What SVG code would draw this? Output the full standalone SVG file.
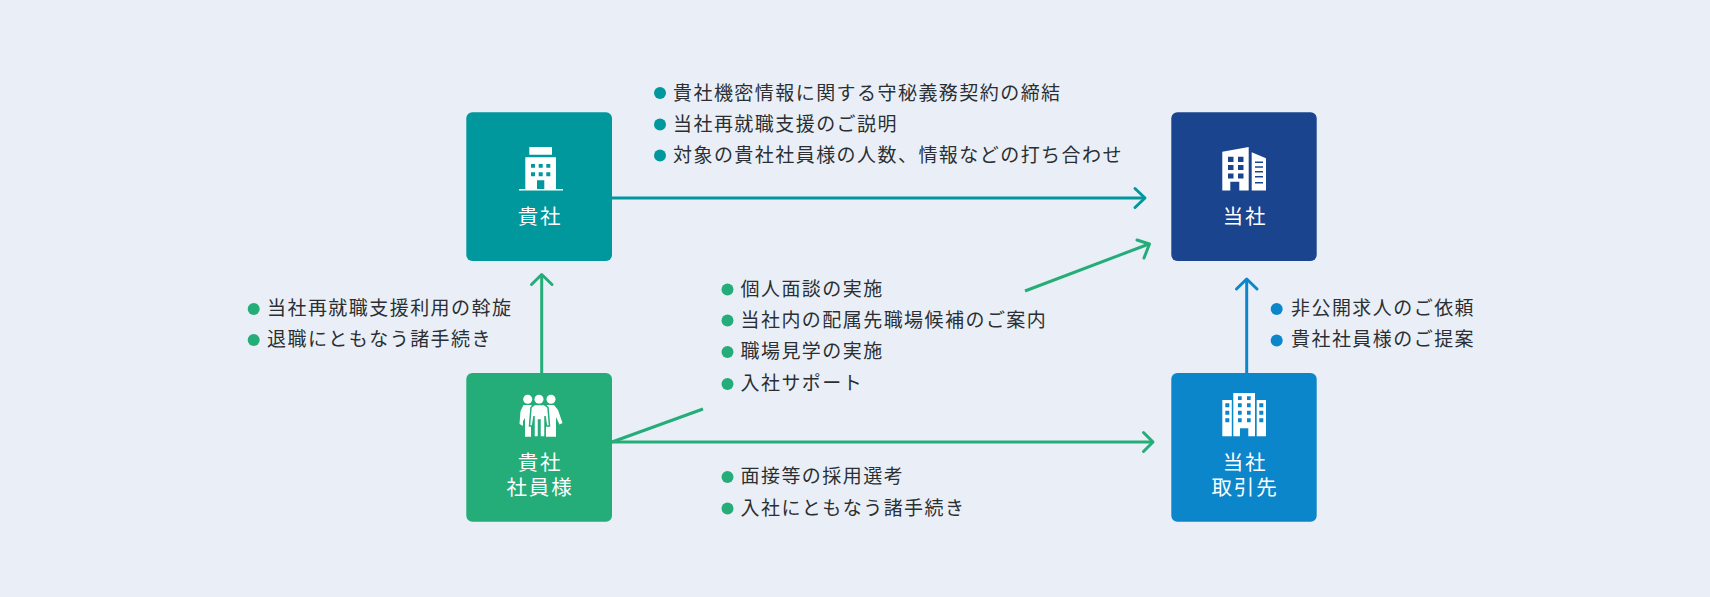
<svg xmlns="http://www.w3.org/2000/svg" width="1710" height="597" viewBox="0 0 1710 597">
<style>
text{font-family:"Noto Sans CJK JP","Noto Sans",sans-serif}
.l{font-size:19px;letter-spacing:1.45px;fill:#2b2f33}
.n{font-size:20.500px;letter-spacing:1.8px;fill:#fff;text-anchor:middle}
.c{fill:none;stroke-width:3;stroke-linecap:butt}
.h{fill:none;stroke-width:3;stroke-linecap:round;stroke-linejoin:round}
.w{fill:#fff}
</style>
<rect width="1710" height="597" fill="#eaeff7"/>
<g id="connectors">
<path class="c" stroke="#00979d" d="M612 198H1144"/><path class="h" stroke="#00979d" d="M1135 188.500L1145 198L1135 207.500"/>
<path class="c" stroke="#24ad78" d="M541.700 373V275"/><path class="h" stroke="#24ad78" d="M531.500 284.500L541.700 274.500L552 284.500"/>
<path class="c" stroke="#24ad78" d="M612 442L703 409"/>
<path class="c" stroke="#24ad78" d="M1025 291L1149 244"/><path class="h" stroke="#24ad78" d="M1137 240L1149.500 244L1144 258"/>
<path class="c" stroke="#24ad78" d="M612 442H1153"/><path class="h" stroke="#24ad78" d="M1143.500 432.500L1153 442L1143.500 451.500"/>
<path class="c" stroke="#0c86cb" d="M1246.700 373V280"/><path class="h" stroke="#0c86cb" d="M1236.500 289L1246.700 279L1257 289"/>
</g>
<g id="kisha">
<rect x="466.300" y="112.300" width="145.700" height="148.700" rx="6" fill="#00979d"/>
<path class="w" d="M529.300 147h22.700v7.700h-22.700zM525.300 157.300h30.700v31.700h-30.700zM519 189h44v1.500h-44z"/>
<path fill="#00979d" d="M531 164h4v3.700h-4zM538.700 164h4v3.700h-4zM546.300 164h4v3.700h-4zM531 172.300h4v4h-4zM538.700 172.300h4v4h-4zM546.300 172.300h4v4h-4zM537 180.300h7.300v8.700h-7.300z"/>
<text class="n" x="540" y="224">貴社</text>
</g>
<g id="tosha">
<rect x="1171.300" y="112.300" width="145.400" height="148.700" rx="6" fill="#1a448e"/>
<path class="w" d="M1222.300 151.700L1248.700 147V190.500H1239.300V181.700H1230.300V190.500H1222.300ZM1251.700 152.300L1266 158.300V190.500H1251.700Z"/>
<path fill="#1a448e" d="M1228 156.700h5.500v5.300h-5.500zM1238 156.700h5.500v5.300h-5.500zM1228 165h5.500v5h-5.500zM1238 165h5.500v5h-5.500zM1228 173.500h5.500v5h-5.500zM1238 173.500h5.500v5h-5.500zM1255 161.500h8v1.500h-8zM1255 166.300h8v1.500h-8zM1255 171h8v1.500h-8zM1255 176h8v1.500h-8zM1255 182h8v1.500h-8z"/>
<text class="n" x="1245" y="224">当社</text>
</g>
<g id="shainsama">
<rect x="466.300" y="373" width="145.700" height="148.700" rx="6" fill="#24ad78"/>
<g class="w"><circle cx="527.700" cy="399.300" r="4.500"/><circle cx="539" cy="399.300" r="4.500"/><circle cx="551" cy="399.300" r="4.500"/></g>
<path class="w" d="M523.500 405H531L534 408L531 420V436.700H525V418L523 421V426L519.500 424L520.500 411Z"/>
<path class="w" d="M546.500 405H554L558 410L562.500 423L559.500 424.500L556 417V436.700H546V419Z"/>
<path class="w" stroke="#24ad78" stroke-width="1.500" d="M534.500 404.500H544L548 407.500L549.500 426H546.500L545 416V437H540V420H538.500V437H534V416L532.500 426H529.500L531 407.500Z"/>
<text class="n" x="540" y="470">貴社<tspan x="540" dy="25">社員様</tspan></text>
</g>
<g id="torihikisaki">
<rect x="1171.300" y="373" width="145.400" height="148.700" rx="6" fill="#0c86cb"/>
<path class="w" d="M1222.300 400h9.500v36.300h-9.500zM1233.300 393h21.700v43.300h-6.700v-8h-8.300v8h-6.700zM1256.700 400h9.300v36.300h-9.300z"/>
<path fill="#0c86cb" d="M1225.300 403.300h4v4h-4zM1225.300 410.700h4v4h-4zM1225.300 418.300h4v4h-4zM1259.300 403.300h4v4h-4zM1259.300 410.700h4v4h-4zM1259.300 418.300h4v4h-4zM1238 396.300h3.700v3.700h-3.700zM1247 396.300h3.700v3.700h-3.700zM1238 403.300h3.700v4h-3.700zM1247 403.300h3.700v4h-3.700zM1238 410.700h3.700v4h-3.700zM1247 410.700h3.700v4h-3.700zM1238 418.300h3.700v4h-3.700zM1247 418.300h3.700v4h-3.700z"/>
<text class="n" x="1245" y="470">当社<tspan x="1245" dy="25">取引先</tspan></text>
</g>
<g id="labels-top">
<g fill="#00979d"><circle cx="660" cy="93" r="6"/><circle cx="660" cy="124.500" r="6"/><circle cx="660" cy="155.500" r="6"/></g>
<text class="l" x="673" y="99.500">貴社機密情報に関する守秘義務契約の締結</text>
<text class="l" x="673" y="130.500">当社再就職支援のご説明</text>
<text class="l" x="673" y="161.500">対象の貴社社員様の人数、情報などの打ち合わせ</text>
</g>
<g id="labels-left">
<g fill="#24ad78"><circle cx="253.700" cy="309" r="6"/><circle cx="253.700" cy="340" r="6"/></g>
<text class="l" x="267" y="314.500">当社再就職支援利用の斡旋</text>
<text class="l" x="267" y="346">退職にともなう諸手続き</text>
</g>
<g id="labels-mid">
<g fill="#24ad78"><circle cx="727.500" cy="289.500" r="6"/><circle cx="727.500" cy="320.500" r="6"/><circle cx="727.500" cy="352" r="6"/><circle cx="727.500" cy="384" r="6"/><circle cx="727.500" cy="477" r="6"/><circle cx="727.500" cy="508.500" r="6"/></g>
<text class="l" x="740.500" y="295.500">個人面談の実施</text>
<text class="l" x="740.500" y="326.500">当社内の配属先職場候補のご案内</text>
<text class="l" x="740.500" y="358">職場見学の実施</text>
<text class="l" x="740.500" y="389.500">入社サポート</text>
<text class="l" x="740.500" y="483">面接等の採用選考</text>
<text class="l" x="740.500" y="514.500">入社にともなう諸手続き</text>
</g>
<g id="labels-right">
<g fill="#0c86cb"><circle cx="1276.700" cy="309" r="6"/><circle cx="1276.700" cy="340.500" r="6"/></g>
<text class="l" x="1291" y="314.500">非公開求人のご依頼</text>
<text class="l" x="1291" y="346">貴社社員様のご提案</text>
</g>
</svg>
